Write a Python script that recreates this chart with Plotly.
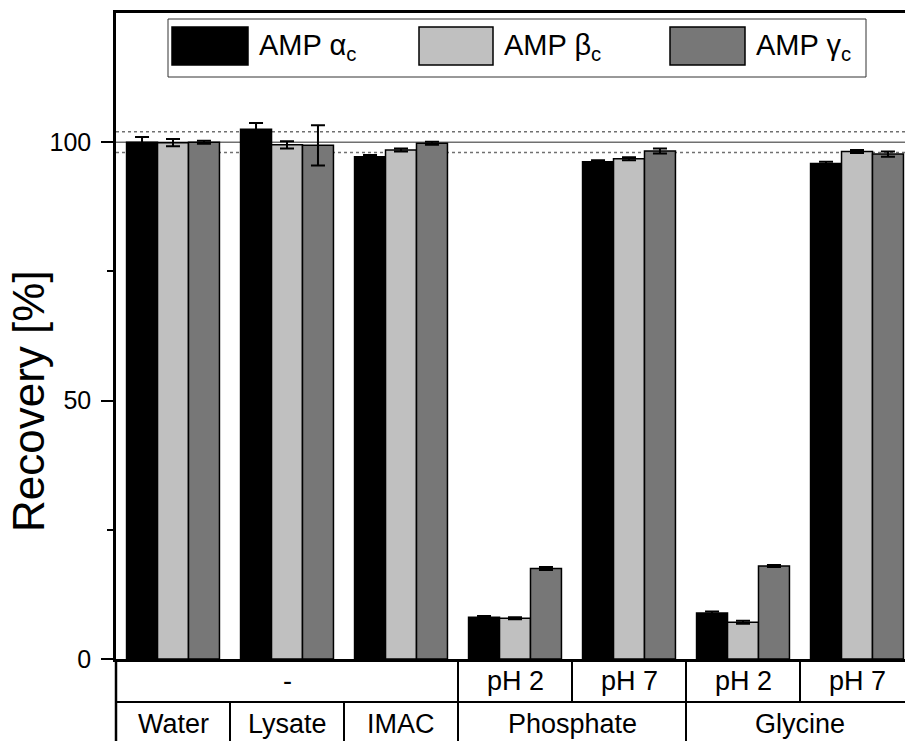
import plotly.graph_objects as go

# ---- data ----
categories = ["Water", "Lysate", "IMAC", "Phosphate pH 2", "Phosphate pH 7", "Glycine pH 2", "Glycine pH 7"]
series_names = ["AMP α<sub>c</sub>", "AMP β<sub>c</sub>", "AMP γ<sub>c</sub>"]
alpha = [100.0, 102.5, 97.2, 8.1, 96.2, 8.9, 95.9]
alpha_err = [1.0, 1.2, 0.3, 0.2, 0.3, 0.3, 0.3]
beta = [99.9, 99.5, 98.5, 7.9, 96.8, 7.1, 98.2]
beta_err = [0.7, 0.7, 0.3, 0.2, 0.3, 0.3, 0.3]
gamma = [100.0, 99.4, 99.8, 17.5, 98.3, 18.0, 97.7]
gamma_err = [0.3, 3.9, 0.3, 0.3, 0.5, 0.2, 0.5]
row1_labels = ["-", "pH 2", "pH 7", "pH 2", "pH 7"]
row1_pos = [1.0, 3, 4, 5, 6]
row2_labels = ["Water", "Lysate", "IMAC", "Phosphate", "Glycine"]
row2_pos = [0, 1, 2, 3.5, 5.5]
ref_lines = [98, 100, 102]

colors = ["#000000", "#c0c0c0", "#777777"]
FONT = "Liberation Sans, Arial, sans-serif"

fig = go.Figure()
for name, vals, errs, col in zip(series_names, [alpha, beta, gamma],
                                 [alpha_err, beta_err, gamma_err], colors):
    fig.add_trace(go.Bar(
        x=categories, y=vals, name=name, showlegend=False,
        marker=dict(color=col, line=dict(color="black", width=1.5)),
        error_y=dict(type="data", array=errs, visible=True,
                     color="black", thickness=2, width=7),
    ))

W, H = 905, 741
L, T, B = 116, 13, 82
plot_h = H - T - B

fig.update_layout(
    width=W, height=H,
    margin=dict(l=L, r=0, t=T, b=B, pad=0),
    paper_bgcolor="white", plot_bgcolor="white",
    barmode="group", bargap=0.185, bargroupgap=0,
    font=dict(family=FONT, color="black", size=24),
    showlegend=False,
)
fig.update_xaxes(
    range=[-0.5, -0.5 + (W - L) / 114.0],
    showline=True, linecolor="black", linewidth=2.5, mirror=True,
    showticklabels=False, ticks="", showgrid=False, zeroline=False,
)
fig.update_yaxes(
    range=[0, 125], tickvals=[0, 50, 100],
    showline=True, linecolor="black", linewidth=2.5, mirror=False,
    ticks="outside", ticklen=12, tickwidth=2, tickcolor="black",
    minor=dict(tickvals=[25, 75], ticks="outside", ticklen=6, tickwidth=2, tickcolor="black"),
    tickfont=dict(size=25, family=FONT), ticklabelstandoff=5,
    showgrid=False, zeroline=False,
)

shapes = []
# reference lines
for v in ref_lines:
    shapes.append(dict(type="line", xref="paper", yref="y", x0=0, x1=1, y0=v, y1=v,
                       line=dict(color="#707070", width=1.5, dash="solid" if v == 100 else "dot"),
                       layer="below"))

# table below plot
def py(pix):  # pixel y -> paper y
    return (H - B - pix) / plot_h

row_div = py(702)
bottom = py(H + 20)
shapes.append(dict(type="line", xref="paper", yref="paper", x0=0, x1=1.05, y0=row_div, y1=row_div,
                   line=dict(color="black", width=2)))
shapes.append(dict(type="line", xref="paper", yref="paper", x0=0, x1=0, y0=0, y1=bottom,
                   line=dict(color="black", width=2.5)))
for xv in [2.5, 3.5, 4.5, 5.5]:
    shapes.append(dict(type="line", xref="x", yref="paper", x0=xv, x1=xv, y0=0, y1=row_div,
                       line=dict(color="black", width=2)))
for xv in [0.5, 1.5, 2.5, 4.5]:
    shapes.append(dict(type="line", xref="x", yref="paper", x0=xv, x1=xv, y0=row_div, y1=bottom,
                       line=dict(color="black", width=2)))

annotations = []
for lab, xp in zip(row1_labels, row1_pos):
    annotations.append(dict(text=lab, x=xp, y=py(681), xref="x", yref="paper",
                            showarrow=False, xanchor="center", yanchor="middle",
                            font=dict(size=27, family=FONT)))
for lab, xp in zip(row2_labels, row2_pos):
    annotations.append(dict(text=lab, x=xp, y=py(724), xref="x", yref="paper",
                            showarrow=False, xanchor="center", yanchor="middle",
                            font=dict(size=27, family=FONT)))

# axis title
annotations.append(dict(text="Recovery [%]", x=(28 - L) / (W - L), y=py(401), xref="paper", yref="paper",
                        showarrow=False, textangle=-90, xanchor="center", yanchor="middle",
                        font=dict(size=44, family=FONT)))

# custom legend
def px(pix):
    return (pix - L) / (W - L)

shapes.append(dict(type="rect", xref="paper", yref="paper", x0=px(168), x1=px(866), y0=py(77), y1=py(19),
                   line=dict(color="#333333", width=1), fillcolor="white"))
swatches = [(172, 248, 257), (419, 493, 502), (670, 745, 754)]
for (sx0, sx1, tx), col, name in zip(swatches, colors, series_names):
    shapes.append(dict(type="rect", xref="paper", yref="paper", x0=px(sx0), x1=px(sx1),
                       y0=py(65), y1=py(27), fillcolor=col, line=dict(color="black", width=1.5)))
    annotations.append(dict(text=name, x=px(tx), y=py(47), xref="paper", yref="paper",
                            showarrow=False, xanchor="left", yanchor="middle",
                            font=dict(size=29, family=FONT)))

fig.update_layout(shapes=shapes, annotations=annotations)
fig.write_html("out.html")
